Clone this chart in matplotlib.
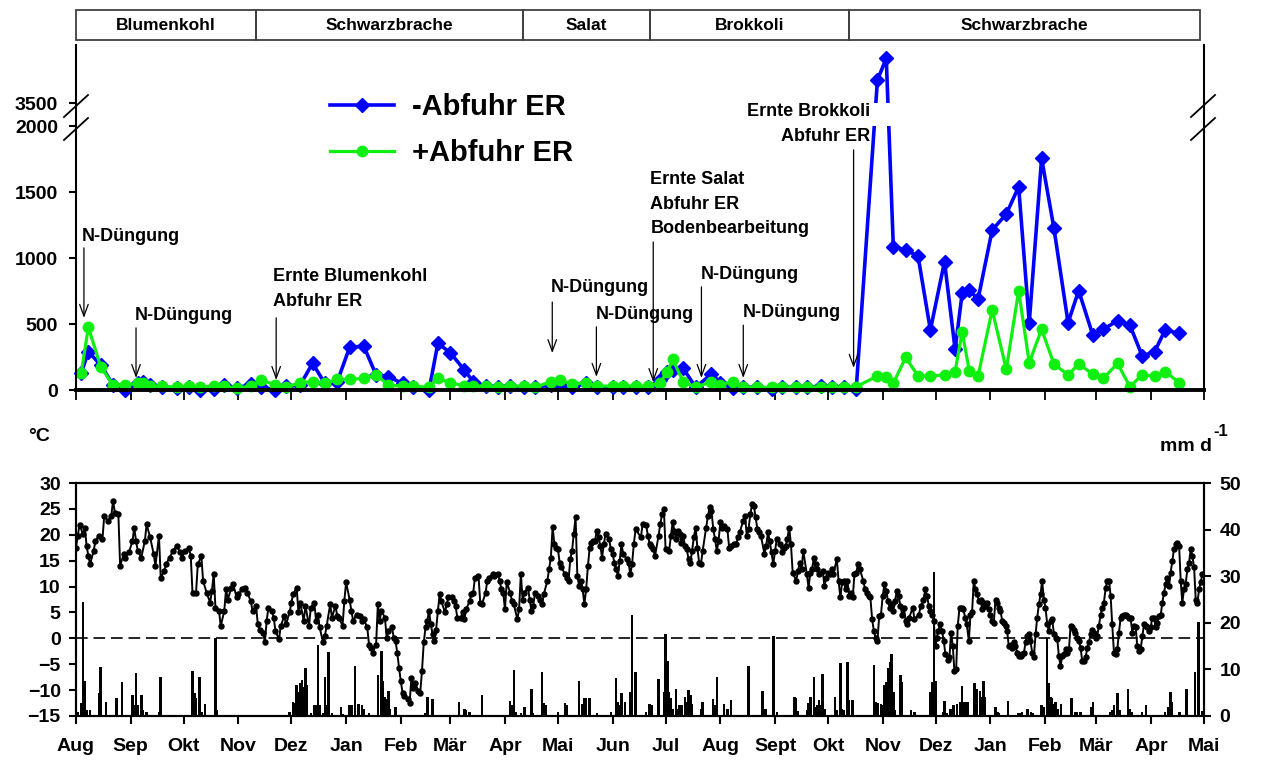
import numpy as np
import matplotlib
matplotlib.use("Agg")
import matplotlib.pyplot as plt
from matplotlib.lines import Line2D
from matplotlib.patches import Rectangle
from matplotlib.transforms import blended_transform_factory

plt.rcParams['font.family'] = ['Liberation Sans Narrow', 'Liberation Sans', 'DejaVu Sans']
plt.rcParams['font.weight'] = 'bold'

# ---------------- data ----------------
START = '2010-08-01'
END = '2012-05-01'
month_labels = ['Aug', 'Sep', 'Okt', 'Nov', 'Dez', 'Jan', 'Feb', 'Mär', 'Apr', 'Mai', 'Jun',
                'Jul', 'Aug', 'Sept', 'Okt', 'Nov', 'Dez', 'Jan', 'Feb', 'Mär', 'Apr', 'Mai']
crop_names = ['Blumenkohl', 'Schwarzbrache', 'Salat', 'Brokkoli', 'Schwarzbrache']
crop_edges = [0, 102, 253, 325, 438, 637]   # days since START

# (day, -Abfuhr ER, +Abfuhr ER)
leach_obs = [(3,131,131),(7,290,475),(14,190,177),(21,38,38),(28,0,38),(35,50,50),(38,63,55),
             (42,38,30),(49,25,30),(57,13,20),(64,20,30),(70,0,20),(78,5,30),(84,38,30),(91,13,13),
             (99,45,30),(105,20,76),(113,0,38),(119,30,20),(127,38,56),(134,202,63),(141,50,50),
             (148,63,81),(155,323,81),(163,333,88),(170,114,114),(177,101,38),(185,50,30),(191,20,30),
             (200,0,20),(205,354,88),(212,283,56),(220,152,30),(225,63,30),(232,30,30),(239,25,25),
             (246,30,30),(254,20,30),(260,20,20),(269,38,63),(274,45,76),(281,20,45),(289,50,56),
             (295,20,30),(304,20,30),(310,20,30),(317,20,30),(324,20,30),(331,76,56),(335,139,139),
             (338,150,232),(344,164,63),(351,20,20),(360,121,63),(365,56,40),(372,13,63),(378,20,20),
             (386,20,20),(394,10,20),(400,20,20),(408,20,25),(414,20,20),(422,30,25),(428,20,20),
             (435,25,25),(442,10,25),(454,3674,106),(459,3839,101),(463,1086,51),(470,1061,247),
             (477,1015,106),(484,455,106),(492,972,114),(498,308,139),(502,732,442),(506,758,146),
             (511,687,106),(519,1212,606),(527,1333,157),(534,1540,753),(540,510,207),(547,1755,460),
             (554,1225,197),(562,510,114),(568,753,197),(576,417,121),(582,460,88),(590,525,202),
             (597,492,25),(604,258,114),(611,290,106),(617,455,139),(625,429,56)]

event_days = [4.5, 34, 113.4, 269.8, 294.8, 327, 354.3, 378, 440.5]
event_texts = ['N-Düngung', 'N-Düngung', 'Ernte Blumenkohl\nAbfuhr ER', 'N-Düngung', 'N-Düngung',
               'Ernte Salat\nAbfuhr ER\nBodenbearbeitung', 'N-Düngung', 'N-Düngung',
               'Ernte Brokkoli\nAbfuhr ER']

# daily mean air temperature (day, °C)
temp_obs = [(0,17.5),(1,19.8),(2,21.9),(4,20.1),(5,21.4),(6,17.9),(7,15.9),(8,14.3),(10,16.9),(11,18.8),
            (13,19.8),(15,19.2),(16,23.7),(18,22.7),(20,23.7),(21,26.6),(22,24.3),(24,24.0),(25,14.0),(27,16.3),
            (28,15.6),(30,16.6),(32,18.8),(33,21.4),(34,18.8),(35,16.9),(37,15.6),(39,18.8),(40,22.0),(42,19.5),
            (44,16.3),(45,14.0),(47,19.8),(48,11.7),(50,13.0),(51,14.3),(53,15.6),(55,16.9),(57,17.9),(59,16.6),
            (60,15.6),(62,16.9),(64,17.5),(65,15.9),(66,8.8),(68,8.8),(69,14.3),(71,15.9),(72,11.1),(74,8.8),
            (76,6.9),(77,9.2),(78,12.4),(79,5.9),(81,5.3),(82,2.4),(84,5.3),(85,9.5),(86,7.5),(88,9.8),
            (89,10.5),(91,7.9),(92,8.5),(94,9.5),(96,9.8),(97,8.8),(99,7.2),(100,5.3),(102,6.3),(103,2.7),
            (104,1.7),(106,1.1),(107,-0.8),(108,3.4),(109,5.9),(111,5.3),(112,4.0),(113,1.4),(115,-0.2),(116,2.4),
            (118,4.3),(119,2.7),(121,5.0),(122,6.9),(123,8.5),(125,9.8),(126,5.0),(127,6.9),(129,3.4),(130,6.3),
            (132,2.4),(133,5.9),(135,6.9),(136,3.4),(137,4.6),(138,2.1),(140,-0.8),(141,0.5),(142,2.4),(144,6.6),
            (145,4.0),(147,6.3),(148,4.3),(149,4.0),(151,2.4),(152,7.2),(153,10.8),(155,7.5),(156,5.3),(157,3.4),
            (159,4.6),(161,4.3),
            (162,3.4),(163,3.7),(165,2.1),(166,-1.2),(167,-1.8),(168,-2.8),(170,-1.2),(171,6.6),(172,3.4),(173,5.3),
            (175,4.0),(176,0.1),(177,1.4),(179,2.1),(180,0.1),(181,-0.5),(182,-2.8),(183,-5.7),(184,-8.3),(185,-10.5),
            (186,-11.2),(188,-11.8),(189,-12.5),(190,-7.6),(191,-9.5),(192,-8.6),(194,-10.2),(195,-10.5),(196,-6.3),
            (197,-0.8),(198,2.1),(199,3.4),(200,5.3),(201,2.7),(202,0.8),(203,-0.5),(204,1.7),(205,5.3),(206,8.5),
            (207,7.2),(209,5.0),(210,6.6),(211,7.9),(213,7.9),(214,7.2),(215,6.3),(216,4.0),(218,4.0),(219,5.0),
            (220,3.7),(221,5.6),(223,7.2),(224,8.5),(225,8.8),(226,11.7),(228,12.1),(229,6.9),(230,6.6),(232,8.8),
            (233,11.1),(234,11.7),(236,12.4),(237,12.1),(239,12.4),(240,11.1),(241,9.5),(242,8.8),(243,5.6),
            (244,10.8),(246,8.8),(247,7.2),(248,6.6),(250,3.7),(251,5.6),(252,12.5),(253,7.5),(254,8.8),(256,9.8),
            (257,7.5),(258,5.3),(259,6.3),(260,8.8),(262,8.2),(263,7.5),(264,6.6),(265,8.5),(267,11.1),(268,13.4),
            (269,15.6),(270,21.5),(271,18.2),(272,17.5),(273,17.2),(274,14.6),(275,13.7),(277,12.4),(278,11.7),
            (279,11.1),(280,15.3),(281,16.9),(282,20.1),(283,23.5),(284,12.1),(285,10.1),(286,11.1),(287,9.5),
            (288,6.6),(289,9.5),(290,14.0),(291,17.5),(292,18.5),(293,18.8),(294,18.8),(295,20.8),(296,19.5),
            (297,17.9),(298,15.6),(299,18.2),(300,20.1),(302,19.2),(303,17.2),(304,16.3),(305,14.6),(306,13.4),
            (307,12.1),(308,15.0),(309,18.2),(310,16.3),(312,15.3),(313,14.6),(314,12.4),(315,14.3),(316,18.2),
            (317,21.1),
            (320,19.5),(321,22.1),(323,21.8),(324,19.8),(325,18.2),(326,17.9),(327,17.2),(328,15.9),(330,19.8),
            (331,22.1),(332,24.0),(333,25.0),(334,17.2),(336,16.9),(337,19.8),(338,22.4),(339,20.8),(340,19.2),
            (341,20.8),(342,20.1),(343,18.5),(344,19.8),(345,17.9),(346,17.2),(347,15.3),(348,14.6),(349,16.9),
            (350,19.5),(351,21.4),(352,17.5),(353,14.6),(354,14.3),(355,16.9),(357,21.4),(358,23.7),(359,25.3),
            (360,24.6),(361,21.1),(362,19.2),(363,16.9),(364,18.8),(365,22.4),(366,21.4),(367,21.7),(369,21.1),
            (370,17.5),(371,17.9),(373,18.2),(374,18.2),(375,19.5),(376,20.5),(378,22.7),(379,23.7),(380,19.8),
            (381,21.1),(382,24.0),(383,25.9),(384,25.6),(385,23.4),(386,21.1),(387,20.5),(388,19.8),(390,16.3),
            (391,17.9),(392,20.5),(393,18.8),(394,16.6),(395,14.3),(396,16.9),(397,19.2),(399,18.2),(400,16.6),
            (401,17.5),(402,17.9),(403,19.2),(404,21.4),(405,18.2),(406,12.7),(408,11.1),(409,13.0),(410,14.6),
            (411,13.4),(412,16.9),(414,12.4),(415,9.8),(416,12.7),(417,13.4),(418,15.6),(419,14.3),(420,13.4),
            (421,12.4),(423,13.0),(424,10.1),(425,11.7),(426,12.7),(427,12.4),(428,13.4),(429,12.4),(431,15.3),
            (432,11.1),(433,7.9),(434,10.8),(435,11.1),(436,9.5),(437,11.1),(438,8.2),(439,8.8),(440,7.9),
            (441,12.4),(442,12.7),(443,14.3),(444,13.4),(446,11.1),(447,9.5),(448,8.8),(449,8.2),(450,7.9),
            (451,3.7),(452,1.4),(453,0.1),(454,-0.5),(455,4.3),(456,4.6),(457,8.2),(458,10.5),(459,9.2),(460,7.2),
            (461,5.9),(462,6.6),(463,5.3),(464,7.2),(465,9.2),(466,8.2),(467,6.3),(468,4.6),(469,5.9),(470,3.4),
            (471,2.7),(472,4.0),(474,5.9),(475,3.7),
            (477.4,4.6),(478.7,6.3),(480.0,7.5),(481.2,9.5),(482.1,8.2),(483.1,6.3),(484.0,5.3),(485.0,4.6),
            (485.9,3.4),(486.9,-1.5),(487.6,0.1),(488.4,1.4),(489.5,2.7),(490.6,1.4),(491.6,-0.5),(492.5,-3.1),
            (493.8,-4.1),(494.8,-3.7),(495.7,1.1),(496.7,-1.5),(497.6,-6.3),(498.6,-6.0),(499.5,2.4),(500.5,5.9),
            (501.8,5.9),(502.7,5.6),(503.7,4.0),(504.6,2.7),(505.8,-0.5),(506.7,4.6),(507.6,5.0),(508.6,11.1),
            (509.5,9.5),(510.5,8.5),(511.4,7.2),(512.4,7.5),(513.3,5.6),(514.3,6.9),(515.2,6.3),(516.2,6.9),
            (517.1,5.6),(518.0,4.6),(519.0,3.4),(519.9,3.0),(520.9,7.5),(521.8,6.9),(522.8,5.9),(523.7,5.3),
            (524.7,3.4),(525.6,3.0),(526.6,2.4),(527.5,1.4),(528.4,-1.5),(529.4,-1.2),(530.3,-1.8),(531.3,-0.8),
            (532.2,-1.5),(533.2,-2.8),(534.1,-3.4),(535.1,-3.4),(536.0,-3.1),(537.0,-2.8),(537.9,-0.8),(538.8,0.5),
            (539.8,0.8),(540.7,-0.5),(541.7,-2.8),(542.6,-3.7),(543.6,0.8),(544.5,4.0),(545.5,6.6),(546.4,8.5),
            (547.3,11.1),(548.3,7.5),(549.2,5.9),(550.2,2.7),(551.1,1.4),(552.1,3.4),(553.0,3.7),(554.0,0.8),
            (554.9,0.1),(555.9,-0.2),(556.8,-3.4),(557.7,-5.4),(558.7,-3.4),(559.6,-3.1),(560.6,-2.1),(561.5,-2.8),
            (562.5,-2.1),(563.4,2.4),(564.4,2.1),(565.3,1.7),(566.2,1.1),(567.2,0.1),(568.1,-0.5),(569.1,-1.8),
            (570.0,-4.4),(571.0,-4.4),(571.9,-3.7),(572.9,-1.8),(573.8,-0.8),(574.8,0.8),(575.7,1.7),(576.6,1.1),
            (577.6,0.1),(578.5,0.5),(579.5,2.4),(580.4,4.6),(581.4,5.9),(582.3,6.9),(583.3,9.8),(584.2,11.1),
            (585.2,11.1),(586.1,8.2),(587.0,2.7),(588.0,-2.8),(588.9,-3.1),(589.9,-2.1),(590.8,1.1),(591.8,4.0),
            (592.7,4.3),(593.7,4.6),(594.6,4.6),(595.6,4.3),(596.5,4.0),(597.4,4.0),(598.4,1.1),(599.3,2.4),
            (600.3,2.1),(601.2,-1.5),(602.2,-2.5),(603.1,-2.1),(604.1,0.5),(605.0,2.7),(606.0,2.4),(606.9,2.1),
            (607.8,1.4),(608.8,2.1),(609.7,4.0),(610.7,4.0),(611.6,2.1),(612.6,3.0),(613.5,4.3),(614.5,4.6),
            (615.4,6.9),(616.3,8.8),(617.3,10.5),(618.2,11.7),(619.2,10.1),(620.1,12.7),(621.1,15.0),(622.0,17.2),
            (623.0,18.2),(623.9,18.5),(624.9,17.9),(625.8,11.1),(626.7,6.9),(627.7,9.5),(628.6,10.5),(629.6,13.4),
            (630.5,14.6),(631.5,17.2),(632.4,15.9),(633.4,13.7),(634.3,7.5),(635.3,6.9),(636.2,9.5),(637.1,10.8),
            (638.1,12.4)]

# daily precipitation (day, mm)
rain_obs = [(1,0.9),(3,2.7),(4,24.5),(5,7.5),(6,1.3),(8,1.3),(13,4.9),(14,10.6),(17,3.1),(23,3.8),(26,7.4),
            (32,4.5),(33,2.4),(34,9.2),(35,2.4),(37,4.5),(38,1.3),(40,0.9),(47,0.9),(48,8.4),(66,9.7),(67,4.9),
            (68,3.8),(70,8.4),(71,0.9),(73,2.5),(79,16.7),(80,1.3),(121,0.9),(123,3.1),(124,2.7),(125,6.7),
            (126,5.2),(127,7.0),(128,7.7),(129,6.3),(130,10.2),(131,6.7),(133,0.6),(135,2.4),(136,2.4),(137,15.2),
            (138,2.4),(140,0.6),(141,8.4),(142,2.4),(143,13.7),(145,0.6),(150,2.0),(151,0.4),(155,2.4),(156,2.4),
            (158,10.8),(160,2.5),(162,2.4),(163,1.6),(166,0.6),(171,8.8),(173,13.9),(174,7.5),(175,4.1),
            (176,3.6),(177,5.4),(178,1.6),(181,2.0),(198,0.6),(199,4.1),(202,3.6),(217,2.9),(220,1.6),(221,1.3),
            (223,0.8),(230,4.6),(246,3.2),(247,2.4),(248,9.9),(249,0.9),(252,0.6),(254,2.0),(258,5.9),(259,0.6),
            (264,9.4),(265,2.7),(266,2.4),(273,0.9),(277,2.7),(278,2.4),(285,7.6),(287,2.5),(288,3.8),(289,3.9),
            (291,3.9),(295,0.6),(303,0.8),(306,8.2),(307,3.1),(308,2.4),(309,4.9),(311,3.1),(314,5.2),(315,21.7),
            (317,9.5),(323,0.9),(325,2.5),(326,2.4),(330,7.9),(333,5.2),(334,17.7),(335,11.8),(336,5.2),(337,3.8),
            (338,1.6),(340,5.9),(341,1.6),(342,2.4),(343,2.4),(345,4.1),(346,3.1),(347,5.6),(348,4.5),(349,2.5),
            (354,1.6),(355,3.1),(361,3.6),(362,2.4),(363,8.4),(367,2.5),(369,1.6),(371,3.4),(381,10.8),(389,5.4),
            (390,1.6),(391,1.6),(395,17.2),(397,0.9),(407,4.1),(408,3.8),(409,1.1),(414,1.3),(415,2.7),(416,4.1),
            (418,8.4),(419,2.0),(420,2.4),(421,3.4),(422,2.4),(423,9.0),(424,1.6),(430,4.1),(431,1.3),(433,11.3),
            (434,1.6),(435,1.3),(437,11.5),(438,3.4),(440,3.4),(452,10.9),(453,3.1),(454,2.7),(456,2.5),(457,2.4),
            (458,6.7),(459,7.4),(460,10.2),(461,11.5),(462,13.4),(463,5.2),(464,1.3),(467,8.7),(468,7.4),
            (473,1.3),(475,0.9),(484,5.1),(485,7.2),(486,30.8),(487,7.5),(491,0.9),(492,3.2),(493,0.6),(495,1.5),
            (496,1.6),(497,2.4),(499,2.5),(501,3.1),(502,6.5),(503,3.1),(504,2.9),(505,2.9),(509,7.0),(510,5.9),
            (512,5.4),(513,4.1),(514,7.6),(515,4.1),(521,2.0),(522,0.9),(523,0.6),(528,3.2),(534,0.6),(535,0.6),
            (536,0.8),(539,1.5),(541,0.9),(542,0.6),(547,2.4),(548,2.0),(550,16.7),(551,7.0),(552,4.1),(553,3.9),
            (554,2.5),(555,3.1),(556,1.6),(558,2.5),(564,3.8),(566,0.9),(567,0.8),(569,0.8),(575,2.0),(576,3.1),
            (586,0.9),(587,1.3),(588,2.4),(590,4.9),(591,1.3),(596,5.9),(597,1.6),(598,0.9),(604,0.8),(606,2.4),
            (617,0.9),(619,2.0),(620,5.1),(621,3.1),(625,0.8),(629,5.9),(634,9.5),(636,20.2),(638,1.0)]

# ---------------- layout ----------------
W, H = 1268, 760
fig = plt.figure(figsize=(W / 100, H / 100), dpi=100)


def fx(px):
    return px / W


def fy(py):
    return 1 - py / H


X0, X1 = 76, 1204
BLUE = '#0000FF'
GREEN = '#10F010'
TICKFS = 14

day_max = int((np.datetime64(END) - np.datetime64(START)).astype(int))
months = np.arange(np.datetime64('2010-08'), np.datetime64('2012-06'), dtype='datetime64[M]')
month_ticks = (months.astype('datetime64[D]') - np.datetime64(START)).astype(int)

# broken y-scale for the top panel
B1, B2, GAP = 2000.0, 3500.0, 174.0


def fwd(y):
    y = np.asarray(y, float)
    return np.where(y <= B1, y,
                    np.where(y >= B2, y - (B2 - B1) + GAP, B1 + (y - B1) * GAP / (B2 - B1)))


def inv(t):
    t = np.asarray(t, float)
    return np.where(t <= B1, t,
                    np.where(t >= B1 + GAP, t + (B2 - B1) - GAP, B1 + (t - B1) * (B2 - B1) / GAP))


# ---- header with crop periods
axh = fig.add_axes([fx(X0), fy(40), (X1 - X0) / W, 30 / H])
axh.set_xlim(0, day_max)
axh.set_ylim(0, 1)
axh.axis('off')
for name, a, b in zip(crop_names, crop_edges[:-1], crop_edges[1:]):
    axh.add_patch(Rectangle((a, 0), b - a, 1, fill=False, ec='#404040', lw=1.3, clip_on=False))
    axh.text((a + b) / 2, 0.5, name, ha='center', va='center', fontsize=12.5,
             family=['Liberation Sans', 'DejaVu Sans'], fontweight='bold')

# ---- top panel (leaching)
ld = np.array([o[0] for o in leach_obs], float)
lm = np.array([o[1] for o in leach_obs], float)
lp = np.array([o[2] for o in leach_obs], float)

ax1 = fig.add_axes([fx(X0), fy(390), (X1 - X0) / W, (390 - 45) / H])
ax1.set_yscale('function', functions=(fwd, inv))
ax1.set_xlim(0, day_max)
ax1.set_ylim(0, 3940)
ax1.plot(ld, lm, color=BLUE, lw=2.6, marker='D', ms=6.8, clip_on=False, zorder=3, label='-Abfuhr ER')
ax1.plot(ld, lp, color=GREEN, lw=2.3, marker='o', ms=7.5, clip_on=False, zorder=3.1, label='+Abfuhr ER')
ax1.axhspan(B1, B2, color='white', zorder=3.5, lw=0)
for s in ('left', 'right', 'bottom'):
    ax1.spines[s].set_zorder(4)
ax1.spines['top'].set_visible(False)
ax1.spines['left'].set_linewidth(1.5)
ax1.spines['right'].set_linewidth(1.5)
ax1.spines['bottom'].set_linewidth(2.8)
ax1.set_yticks([0, 500, 1000, 1500, 2000, 3500])
ax1.set_yticklabels(['0', '500', '1000', '1500', '2000', '3500'])
ax1.yaxis.set_minor_locator(matplotlib.ticker.NullLocator())
ax1.set_xticks(month_ticks)
ax1.set_xticklabels([])
ax1.tick_params(axis='y', direction='out', length=5, width=1.5, labelsize=TICKFS, pad=8)
ax1.tick_params(axis='x', direction='out', length=7, width=1.3, pad=2)

leg = ax1.legend(loc='upper left', bbox_to_anchor=((330 - X0) / (X1 - X0), (390 - 93) / 345),
                 frameon=False, fontsize=21, borderpad=0, borderaxespad=0, handlelength=2.2,
                 handletextpad=0.6, labelspacing=0.62, markerscale=1.0)

# event annotations: (text x offset in days, text y, ha, arrow tail y, arrow tip y) in axes-fraction y
event_layout = [(-1.0, 0.446, 'left', 0.412, 0.209),
                (-0.6, 0.217, 'left', 0.180, 0.035),
                (-1.7, 0.292, 'left', 0.209, 0.029),
                (-1.1, 0.296, 'left', 0.255, 0.107),
                (-0.6, 0.220, 'left', 0.183, 0.038),
                (-1.6, 0.539, 'left', 0.429, 0.023),
                (-0.6, 0.336, 'left', 0.299, 0.035),
                (-0.4, 0.226, 'left', 0.188, 0.035),
                (9.6, 0.772, 'right', 0.696, 0.064)]
tr = blended_transform_factory(ax1.transData, ax1.transAxes)
for d, txt, (dx, ty, ha, tail, tip) in zip(event_days, event_texts, event_layout):
    ax1.annotate('', xy=(d, tip), xytext=(d, tail), xycoords=tr, textcoords=tr,
                 arrowprops=dict(arrowstyle='->,head_length=0.6,head_width=0.22', lw=0.9,
                                 color='black', mutation_scale=14, shrinkA=0, shrinkB=0),
                 zorder=6)
    ax1.text(d + dx, ty, txt, transform=tr, ha=ha, va='center', fontsize=13,
             linespacing=1.6, zorder=6, multialignment=ha)

# break marks
for xc in (76, 1203):
    for yc in (106, 129):
        fig.add_artist(Line2D([fx(xc - 12), fx(xc + 12)], [fy(yc + 11), fy(yc - 11)],
                              color='black', lw=1.3))

# ---- bottom panel (temperature + precipitation)
td = np.array([o[0] for o in temp_obs], float)
tv = np.array([o[1] for o in temp_obs], float)
rd = np.array([o[0] for o in rain_obs], float)
rv = np.array([o[1] for o in rain_obs], float)

ax2 = fig.add_axes([fx(X0), fy(716), (X1 - X0) / W, (716 - 483) / H])
ax3 = ax2.twinx()
ax3.bar(rd, rv, width=1.4, color='black', lw=0, align='center')
ax3.set_ylim(0, 50)
ax3.set_yticks(np.arange(0, 51, 10))
ax2.set_zorder(ax3.get_zorder() + 1)
ax2.patch.set_visible(False)

ax2.plot(td, tv, color='black', lw=1.4, marker='o', ms=3.6)
ax2.axhline(0, color='black', lw=1.2, dashes=(7, 3.5))
ax2.set_xlim(0, day_max)
ax2.set_ylim(-15, 30)
ax2.set_yticks(np.arange(-15, 31, 5))
ax2.set_xticks(month_ticks)
ax2.set_xticklabels(month_labels)
ax2.tick_params(axis='y', direction='out', length=5, width=1.5, labelsize=TICKFS, pad=6)
ax2.tick_params(axis='x', direction='out', length=6, width=1.5, labelsize=TICKFS, pad=10)
ax3.tick_params(axis='y', direction='out', length=5, width=1.5, labelsize=TICKFS, pad=6)
for a in (ax2, ax3):
    for s in a.spines.values():
        s.set_linewidth(1.5)

fig.text(fx(28), fy(437), '°C', fontsize=14, va='center', ha='left')
fig.text(fx(1212), fy(446), 'mm d', fontsize=14, va='center', ha='right')
fig.text(fx(1213), fy(432), '-1', fontsize=12, va='center', ha='left')

fig.savefig('out.png', dpi=100)
